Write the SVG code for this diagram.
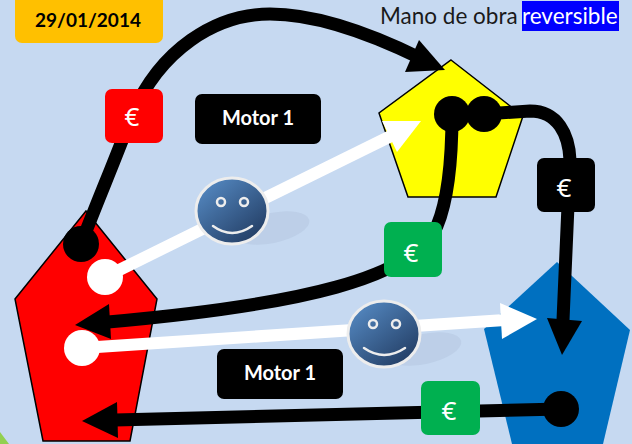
<svg xmlns="http://www.w3.org/2000/svg" width="632" height="444" viewBox="0 0 632 444">
<style>
text{font-family:Lato,"Liberation Sans",sans-serif}
.box{font-weight:700;font-size:20px;text-anchor:middle}
.date{font-size:19px}
.top{font-size:22.500px}
.eur{font-size:26px;fill:#fff;text-anchor:middle;font-family:"Noto Sans","Liberation Sans",sans-serif}
.bk{fill:none;stroke:#000;stroke-width:13}
.wh{fill:none;stroke:#fff;stroke-width:12}
.shadow{fill:#b4c6e0;opacity:.5}
.face{fill:url(#fg);stroke:#ededed;stroke-width:3}
.eye{fill:none;stroke:#ededed;stroke-width:2.500}
.mouth{fill:none;stroke:#ededed;stroke-width:2.500;stroke-linecap:round}
</style>
<defs>
<linearGradient id="fg" x1="0.15" y1="0.1" x2="0.85" y2="0.9"><stop offset="0" stop-color="#5285bd"/><stop offset="1" stop-color="#243f66"/></linearGradient>
</defs>
<rect width="632" height="444" fill="#c6d9f1"/>
<path d="M0 432L9 444H0Z" fill="#92d050"/>
<g id="date"><rect x="15" y="-6" width="148" height="49" rx="7" fill="#ffc000"/><text class="box date" x="88" y="27">29/01/2014</text></g>
<g id="label-top"><rect x="522" y="1" width="97" height="30" fill="#0000ff"/><text class="top" x="380" y="24" fill="#1a1a1a">Mano de obra</text><text class="top" x="522" y="24" fill="#fff">reversible</text></g>
<g id="pent-red"><path d="M86 211L157 299L130 441H43L15 299Z" fill="#f00" stroke="#000" stroke-width="1.500"/></g>
<g id="pent-yellow"><path d="M451 60L523 116L496 197H408L379 113Z" fill="#ff0" stroke="#000" stroke-width="1.500"/></g>
<g id="pent-blue"><path d="M557 262L630 330L603 444H512L484 329Z" fill="#0070c0"/></g>
<g id="connectors">
<path class="bk" d="M81 244C100 195 115 160 132 115C160 50 215 14 270 14C320 14 375 36 420 58"/>
<path d="M419 40L405 72L445 70Z"/>
<path class="wh" d="M105 277L395 134"/>
<path d="M382 121L397 152L421 121Z" fill="#fff"/>
<path class="bk" d="M452 114C452 150 450 195 437 226C415 278 300 305 108 322"/>
<path d="M75 325L109 304L111 339Z"/>
<path class="wh" d="M82 348L505 320"/>
<path d="M537 319L500 303L502 339Z" fill="#fff"/>
<path class="bk" d="M484 114L530 111C558 111 569 135 570 160L563 320"/>
<path d="M562 355L547 318L582 321Z"/>
<path class="bk" d="M561 409L115 420"/>
<path d="M82 421L117 402L118 438Z"/>
<g fill="#000"><circle cx="81" cy="244" r="18"/><circle cx="452" cy="114" r="18"/><circle cx="484" cy="114" r="18"/><circle cx="561" cy="409" r="18"/></g>
<g fill="#fff"><circle cx="105" cy="277" r="18"/><circle cx="82" cy="348" r="18"/></g>
</g>
<g id="eur-red"><rect x="105" y="89" width="58" height="54" rx="7" fill="#f00"/><text class="eur" x="132" y="126">€</text></g>
<g id="motor-1-top"><rect x="195" y="94" width="126" height="50" rx="7" fill="#000"/><text class="box" x="258" y="125" fill="#fff">Motor 1</text></g>
<g id="eur-black"><rect x="537" y="158" width="58" height="54" rx="7" fill="#000"/><text class="eur" x="564" y="197">€</text></g>
<g id="eur-green-top"><rect x="384" y="222" width="58" height="55" rx="7" fill="#00b050"/><text class="eur" x="411" y="262">€</text></g>
<g id="motor-1-bottom"><rect x="217" y="349" width="126" height="50" rx="7" fill="#000"/><text class="box" x="280" y="380" fill="#fff">Motor 1</text></g>
<g id="eur-green-bottom"><rect x="421" y="381" width="59" height="54" rx="7" fill="#00b050"/><text class="eur" x="449" y="420">€</text></g>
<g id="smiley-top">
<ellipse class="shadow" cx="272" cy="228" rx="38" ry="15" transform="rotate(-12 272 228)"/>
<ellipse class="face" cx="232" cy="211" rx="36" ry="33"/>
<circle class="eye" cx="221" cy="202" r="4"/><circle class="eye" cx="244" cy="202" r="4"/>
<path class="mouth" d="M213 226Q232 240 252 226"/>
</g>
<g id="smiley-bottom">
<ellipse class="shadow" cx="424" cy="349" rx="38" ry="15" transform="rotate(-12 424 349)"/>
<ellipse class="face" cx="384" cy="334" rx="36" ry="33"/>
<circle class="eye" cx="373" cy="324" r="4"/><circle class="eye" cx="396" cy="324" r="4"/>
<path class="mouth" d="M364 348Q384 362 405 348"/>
</g>
</svg>
